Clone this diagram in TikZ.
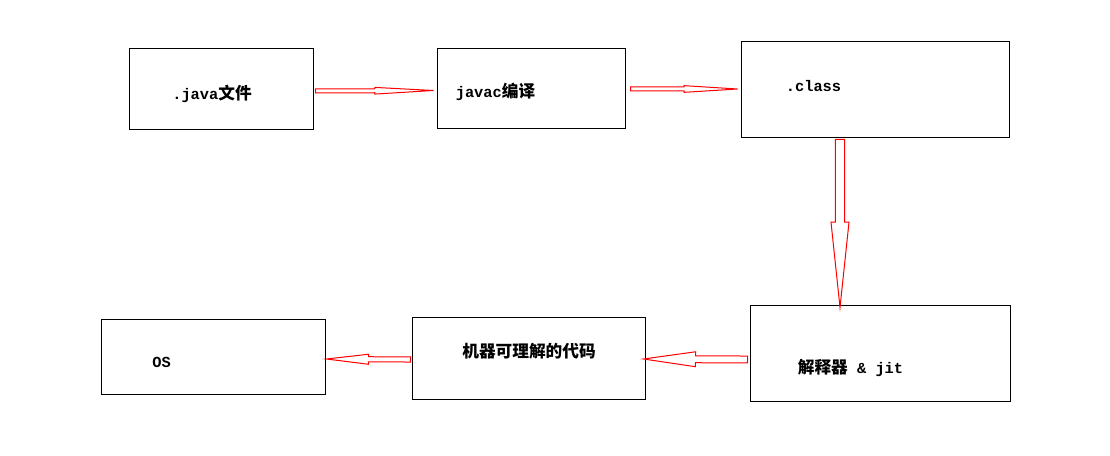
\documentclass[tikz,border=0pt]{standalone}
\usepackage{fontspec}
\setmonofont{Liberation Mono}
\newfontfamily\cjk{Noto Sans CJK SC}
\usetikzlibrary{calc}
\tikzset{
    box/.style 2 args={draw=black, line width=0.75pt, inner sep=0pt,
        minimum width=#1*0.75pt, minimum height=#2*0.75pt},
    lbl/.style={inner sep=0pt, font=\ttfamily\bfseries\fontsize{11.5}{13}\selectfont},
    blk/.style={draw=red, line width=0.75pt, line join=miter, fill=white},
}
\newcommand{\zh}[1]{{\cjk\bfseries\fontsize{12.5}{14}\selectfont #1}}
% hollow block arrow: start, tip, shaft half width, head half width, head length
\newcommand{\blockarrow}[5]{%
    \coordinate (ba-s) at #1;
    \coordinate (ba-e) at #2;
    \coordinate (ba-h) at ($(ba-e)!#5!(ba-s)$);
    \draw[blk] ($(ba-s)!#3!90:(ba-e)$) -- ($(ba-h)!#3!90:(ba-e)$)
        -- ($(ba-h)!#4!90:(ba-e)$) -- (ba-e) -- ($(ba-h)!#4!-90:(ba-e)$)
        -- ($(ba-h)!#3!-90:(ba-e)$) -- ($(ba-s)!#3!-90:(ba-e)$) -- cycle;
}
\begin{document}
\begin{tikzpicture}[x=0.75pt, y=-0.75pt]
    \useasboundingbox (0,0) rectangle (1110,456);

    \node[box={184}{81}] (java)  at (221,89.5) {};
    \node[box={188}{80}] (javac) at (531,89) {};
    \node[box={268}{96}] (class) at (875,90) {};
    \node[box={260}{96}] (jit)   at (880,353) {};
    \node[box={233}{82}] (mach)  at (528.5,358) {};
    \node[box={224}{75}] (os)    at (213,356.5) {};

    \node[lbl] (java-t)  at (212,94)    {.java\zh{文件}};
    \node[lbl] (javac-t) at (495.5,92)  {javac\zh{编译}};
    \node[lbl] (class-t) at (813.5,86)  {.class};
    \node[lbl] (jit-t)   at (850.5,368) {\zh{解释器} \& jit};
    \node[lbl] (mach-t)  at (529,351)   {\zh{机器可理解的代码}};
    \node[lbl] (os-t)    at (161.5,362) {OS};

    \blockarrow{($(java.east)+(2,1.5)$)}{($(javac.west)+(-3,1.5)$)}{1.5pt}{2.5pt}{44pt}
    \blockarrow{($(javac.east)+(5,0)$)}{($(class.west)+(-3,-1)$)}{1.5pt}{2.5pt}{40pt}
    \blockarrow{($(class.south)+(-35,1)$)}{($(jit.north)+(-40,3)$)}{3.4pt}{6.75pt}{64pt}
    \blockarrow{($(jit.west)+(-2,6.5)$)}{($(mach.east)+(-2,1)$)}{2.6pt}{5.6pt}{39pt}
    \blockarrow{($(mach.west)+(-1,1.5)$)}{($(os.east)+(1,2.5)$)}{1.9pt}{3.75pt}{31.5pt}

\end{tikzpicture}
\end{document}
